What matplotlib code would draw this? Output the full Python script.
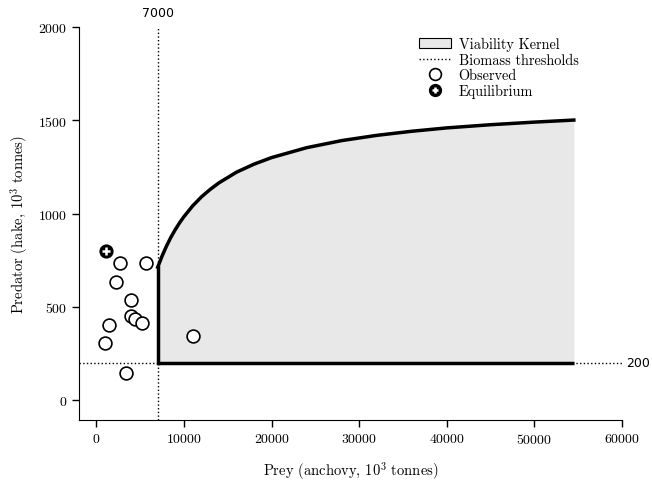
import matplotlib
matplotlib.use("Agg")
import matplotlib.pyplot as plt
from matplotlib.patches import Patch
from matplotlib.lines import Line2D
from matplotlib.legend_handler import HandlerTuple

plt.rcParams['font.family'] = 'serif'
plt.rcParams['font.serif'] = ['cmr10']
plt.rcParams['mathtext.fontset'] = 'cm'
plt.rcParams['axes.formatter.use_mathtext'] = True

# Biomass thresholds
prey_min = 7000
pred_min = 200

# Upper boundary of the viability kernel (prey, predator)
kernel_x = [7000, 7500, 8000, 8500, 9000, 9500, 10000, 11000, 12000, 13000,
            14000, 16000, 18000, 20000, 24000, 28000, 32000, 36000, 40000,
            45000, 50000, 54500]
kernel_y = [713, 773, 826, 873, 914, 951, 984, 1042, 1090, 1130,
            1165, 1222, 1265, 1300, 1353, 1391, 1419, 1441, 1459,
            1476, 1490, 1501]

# Observed states
obs_prey = [2740, 5640, 2250, 3920, 3920, 4380, 5220, 1490, 1030, 3390, 10970]
obs_pred = [733, 733, 633, 535, 452, 434, 413, 404, 309, 145, 345]

# Equilibrium
eq_prey = [1100]
eq_pred = [800]

fig, ax = plt.subplots(figsize=(6.52, 4.81), dpi=100)
fig.subplots_adjust(left=0.121, right=0.954, top=0.942, bottom=0.125)

# kernel fill and outline
ax.fill_between(kernel_x, [pred_min] * len(kernel_x), kernel_y,
                color='#e8e8e8', linewidth=0, zorder=1)
ax.plot(kernel_x, kernel_y, color='black', lw=2.5, zorder=3)
ax.plot([prey_min, prey_min], [pred_min, kernel_y[0]], color='black', lw=2.5, zorder=3)
ax.plot([prey_min, kernel_x[-1]], [pred_min, pred_min], color='black', lw=2.5,
        zorder=3, solid_capstyle='butt')

# thresholds
ax.axvline(prey_min, color='black', ls=':', lw=1.0, zorder=2)
ax.axhline(pred_min, color='black', ls=':', lw=1.0, zorder=2)

ax.scatter(obs_prey, obs_pred, s=85, facecolor='white', edgecolor='black',
           linewidth=1.2, zorder=4)
ax.scatter(eq_prey, eq_pred, s=85, color='black', zorder=5)
ax.scatter(eq_prey, eq_pred, s=30, marker='+', color='white', linewidth=1.8, zorder=6)

ax.text(prey_min, 2040, '7000', family='DejaVu Sans', fontsize=9,
        ha='center', va='bottom')
ax.text(60500, pred_min, '200', family='DejaVu Sans', fontsize=9,
        ha='left', va='center')

ax.set_xlim(-2000, 60000)
ax.set_ylim(-105, 2000)
ax.set_xticks([0, 10000, 20000, 30000, 40000, 50000, 60000])
ax.set_yticks([0, 500, 1000, 1500, 2000])
ax.tick_params(direction='out', length=5, width=1, labelsize=10)
for s in ['top', 'right']:
    ax.spines[s].set_visible(False)

ax.set_xlabel(r'Prey (anchovy, $10^3$ tonnes)', fontsize=10.5, labelpad=10)
ax.set_ylabel(r'Predator (hake, $10^3$ tonnes)', fontsize=10.5, labelpad=6)

h_kernel = Patch(facecolor='#e8e8e8', edgecolor='black', linewidth=0.8)
h_thr = Line2D([], [], color='black', ls=':', lw=1.0)
h_obs = Line2D([], [], marker='o', ls='none', markersize=8.5,
               markerfacecolor='white', markeredgecolor='black', markeredgewidth=1.2)
h_eq_bg = Line2D([], [], marker='o', ls='none', markersize=8.5, color='black')
h_eq_fg = Line2D([], [], marker='+', ls='none', markersize=5, color='white',
                 markeredgewidth=1.8)
ax.legend([h_kernel, h_thr, h_obs, (h_eq_bg, h_eq_fg)],
          ['Viability Kernel', 'Biomass thresholds', 'Observed', 'Equilibrium'],
          handler_map={tuple: HandlerTuple(ndivide=1, pad=0)},
          loc='upper left', bbox_to_anchor=(0.607, 1.0), frameon=False,
          fontsize=10.3, handlelength=2.3, handletextpad=0.5,
          labelspacing=0.12, borderpad=0.2)

fig.savefig('out.png', dpi=100)
